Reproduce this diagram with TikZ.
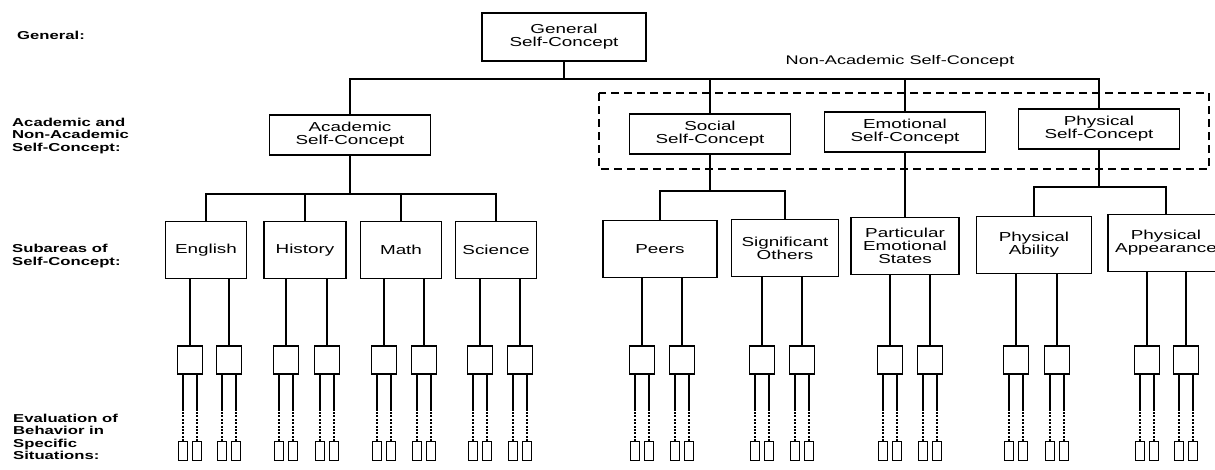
\documentclass[tikz,border=0pt]{standalone}
\usepackage{fontspec}
\setmainfont{Liberation Sans}
\newfontfamily\boxfont[FakeStretch=1.45]{Liberation Sans}
\usetikzlibrary{positioning,calc}
\tikzset{
  cbox/.style     ={rectangle, draw=black, line width=1.6pt, fill=white, align=center,
                    font=\boxfont\fontsize{13}{13}\selectfont, inner sep=2pt},
  topbox/.style   ={cbox, minimum width=164pt, minimum height=48pt},
  midbox/.style   ={cbox, minimum width=161pt, minimum height=40pt},
  subbox/.style   ={cbox, minimum height=57pt},
  smallbox/.style ={rectangle, draw=black, line width=1.5pt, minimum width=25pt,
                    minimum height=28pt, inner sep=0pt},
  tinybox/.style  ={rectangle, draw=black, line width=1.3pt, minimum width=9pt,
                    minimum height=19pt, inner sep=0pt},
  lvl/.style      ={anchor=west, align=left, inner sep=0pt,
                    font=\boxfont\bfseries\fontsize{11.5}{12.5}\selectfont},
  link/.style     ={draw=black, line width=1.6pt},
  dotlink/.style  ={draw=black, line width=1.5pt, dash pattern=on 2pt off 1.4pt},
  dashbox/.style  ={draw=black, line width=1.5pt, dash pattern=on 8pt off 5pt},
}
\begin{document}
\begin{tikzpicture}[x=1pt,y=-1pt]
  \useasboundingbox (0,0) rectangle (1215,469);
  % level labels
  \node[lvl] (l1) at (17,35)  {General:};
  \node[lvl] (l2) at (12,136) {Academic and\\Non-Academic\\Self-Concept:};
  \node[lvl] (l3) at (12,256) {Subareas of\\Self-Concept:};
  \node[lvl] (l4) at (13,437) {Evaluation of\\Behavior in\\Specific\\Situations:};
  % upper levels
  \node[topbox] (gen)  at (564,37)  {General\\Self-Concept};
  \node[midbox] (acad) at (350,135) {Academic\\Self-Concept};
  \node[midbox] (soc)  at (710,134) {Social\\Self-Concept};
  \node[midbox] (emo)  at (905,132) {Emotional\\Self-Concept};
  \node[midbox] (phys) at (1099,129) {Physical\\Self-Concept};
  \node[font=\boxfont\fontsize{12.5}{12.5}\selectfont] (nonac) at (900,61) {Non-Academic Self-Concept};
  \draw[dashbox] (599,93) rectangle (1209,169);
  % subareas
  \node[subbox,minimum width=81pt]  (eng)    at (206,250) {English};
  \node[subbox,minimum width=82pt]  (hist)   at (305,250) {History};
  \node[subbox,minimum width=81pt]  (math)   at (401,250) {Math};
  \node[subbox,minimum width=81pt]  (sci)    at (496,250) {Science};
  \node[subbox,minimum width=114pt] (peer)   at (660,249) {Peers};
  \node[subbox,minimum width=107pt] (sig)    at (785,248) {Significant\\Others};
  \node[subbox,minimum width=108pt] (part)   at (905,246) {Particular\\Emotional\\States};
  \node[subbox,minimum width=115pt] (abil)   at (1034,245) {Physical\\Ability};
  \node[subbox,minimum width=116pt] (appear) at (1166,243) {Physical\\Appearance};
  % tree links
  \foreach \c in {acad,soc,emo,phys}{\draw[link] (gen.south) -- ++(0,17) -| (\c.north);}
  \foreach \c in {eng,hist,math,sci}{\draw[link] (acad.south) -- ++(0,38) -| (\c.north);}
  \foreach \c in {peer,sig}{\draw[link] (soc.south) -- ++(0,36) -| (\c.north);}
  \draw[link] (emo.south) -- (part.north);
  \foreach \c in {abil,appear}{\draw[link] (phys.south) -- ++(0,37) -| (\c.north);}
  % specific behaviour
  \foreach \s/\xa/\xb in {eng/190/229,hist/286/327,math/384/424,sci/480/520,
                          peer/642/682,sig/762/802,part/890/930,abil/1016/1057,appear/1147/1186}{
    \node[smallbox] (\s-a) at (\xa,360) {};
    \node[smallbox] (\s-b) at (\xb,360) {};
    \foreach \k in {a,b}{
      \draw[link] (\s.south -| \s-\k.north) -- (\s-\k.north);
      \node[tinybox] (\s-\k1) at ($(\s-\k.south)+(-7,76)$) {};
      \node[tinybox] (\s-\k2) at ($(\s-\k.south)+(7,76)$) {};
      \foreach \t in {1,2}{
        \coordinate (\s-\k\t m) at ($(\s-\k\t.north)+(0,-32)$);
        \draw[link] (\s-\k\t m |- \s-\k.south) -- (\s-\k\t m);
        \draw[dotlink] (\s-\k\t m) -- (\s-\k\t.north);
      }
    }
  }
\end{tikzpicture}
\end{document}
